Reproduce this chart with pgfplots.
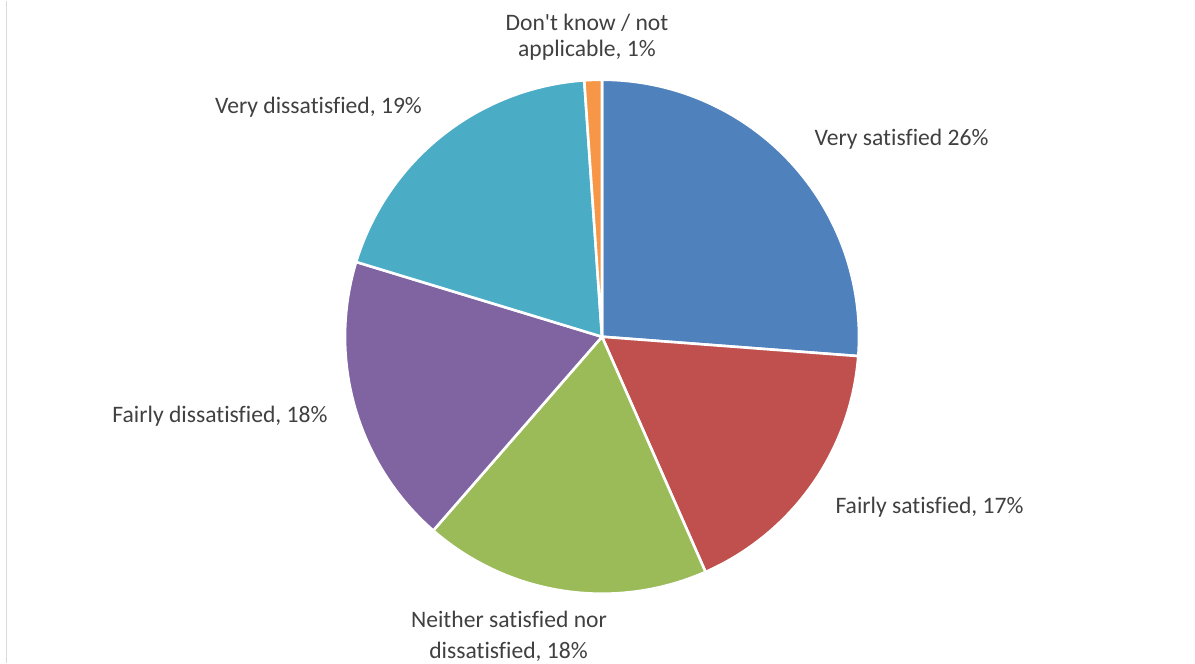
\documentclass[border=0pt]{standalone}
\usepackage{pgfplots}
\usepackage{pgfplotstable}
\pgfplotsset{compat=1.18}
\usepackage{fontspec}
\setmainfont{Carlito}[Ligatures={CommonOff,TeXOff}]
\definecolor{cA}{HTML}{4F81BD}
\definecolor{cB}{HTML}{C0504D}
\definecolor{cC}{HTML}{9BBB59}
\definecolor{cD}{HTML}{8064A2}
\definecolor{cE}{HTML}{4BACC6}
\definecolor{cF}{HTML}{F79646}
\definecolor{txt}{HTML}{404040}
\definecolor{frame}{HTML}{D9D9D9}

\pgfplotstableread{
label value
VerySatisfied 26.2
FairlySatisfied 17.2
Neither 18.0
FairlyDissatisfied 18.3
VeryDissatisfied 19.2
DontKnow 1.1
}\piedata

\pgfplotstablegetelem{0}{value}\of\piedata \let\vA\pgfplotsretval
\pgfplotstablegetelem{1}{value}\of\piedata \let\vB\pgfplotsretval
\pgfplotstablegetelem{2}{value}\of\piedata \let\vC\pgfplotsretval
\pgfplotstablegetelem{3}{value}\of\piedata \let\vD\pgfplotsretval
\pgfplotstablegetelem{4}{value}\of\piedata \let\vE\pgfplotsretval
\pgfplotstablegetelem{5}{value}\of\piedata \let\vF\pgfplotsretval
\pgfmathsetmacro\aA{90}
\pgfmathsetmacro\aB{\aA-3.6*\vA}
\pgfmathsetmacro\aC{\aB-3.6*\vB}
\pgfmathsetmacro\aD{\aC-3.6*\vC}
\pgfmathsetmacro\aE{\aD-3.6*\vD}
\pgfmathsetmacro\aF{\aE-3.6*\vE}
\pgfmathsetmacro\aG{\aF-3.6*\vF}

\def\cx{602}
\def\cy{326}
\def\rr{257}

\tikzset{lab/.style={anchor=base, inner sep=0pt, font=\fontsize{11.8}{14}\selectfont, text=txt}}

\begin{document}
\begin{tikzpicture}
\begin{axis}[
  width=597.5pt, height=331pt, scale only axis,
  hide axis, clip=false,
  xmin=0, xmax=1195, ymin=0, ymax=662,
]
\path (axis cs:0,0) rectangle (axis cs:1195,662);
\addplot[draw=frame, line width=0.75pt] coordinates {(6.5,0) (6.5,662)};

\addplot[fill=cA, draw=white, line width=1.3pt, domain=\aB:\aA, samples=90]
  ({\cx+\rr*cos(x)}, {\cy+\rr*sin(x)}) -- (axis cs:\cx,\cy) -- cycle;
\addplot[fill=cB, draw=white, line width=1.3pt, domain=\aC:\aB, samples=60]
  ({\cx+\rr*cos(x)}, {\cy+\rr*sin(x)}) -- (axis cs:\cx,\cy) -- cycle;
\addplot[fill=cC, draw=white, line width=1.3pt, domain=\aD:\aC, samples=60]
  ({\cx+\rr*cos(x)}, {\cy+\rr*sin(x)}) -- (axis cs:\cx,\cy) -- cycle;
\addplot[fill=cD, draw=white, line width=1.3pt, domain=\aE:\aD, samples=60]
  ({\cx+\rr*cos(x)}, {\cy+\rr*sin(x)}) -- (axis cs:\cx,\cy) -- cycle;
\addplot[fill=cE, draw=white, line width=1.3pt, domain=\aF:\aE, samples=60]
  ({\cx+\rr*cos(x)}, {\cy+\rr*sin(x)}) -- (axis cs:\cx,\cy) -- cycle;
\addplot[fill=cF, draw=white, line width=1.3pt, domain=\aG:\aF, samples=10]
  ({\cx+\rr*cos(x)}, {\cy+\rr*sin(x)}) -- (axis cs:\cx,\cy) -- cycle;

\node[lab] at (axis cs:587,632) {Don't know / not};
\node[lab] at (axis cs:587,606) {applicable, 1\%};
\node[lab] at (axis cs:901.5,517) {Very satisfied 26\%};
\node[lab] at (axis cs:929.5,149) {Fairly satisfied, 17\%};
\node[lab] at (axis cs:509,35) {Neither satisfied nor};
\node[lab] at (axis cs:508.5,4) {dissatisfied, 18\%};
\node[lab] at (axis cs:220,240) {Fairly dissatisfied, 18\%};
\node[lab] at (axis cs:318.5,549) {Very dissatisfied, 19\%};
\end{axis}
\end{tikzpicture}
\end{document}
